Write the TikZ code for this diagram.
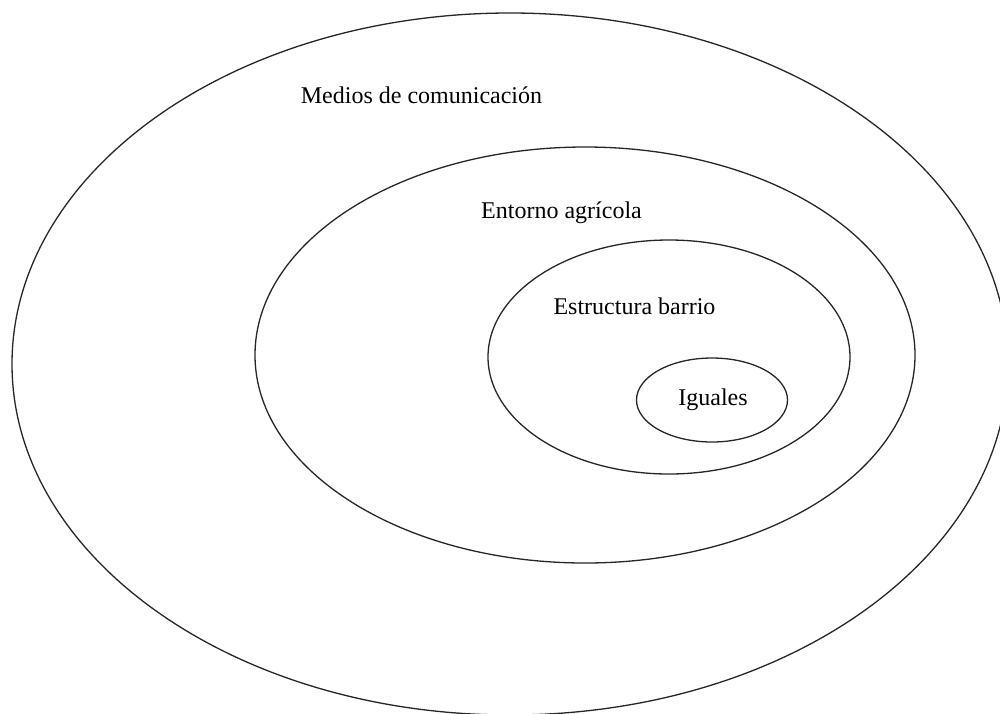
\documentclass[tikz,border=0pt]{standalone}
\usepackage{fontspec}
\setmainfont{Liberation Serif}
\usetikzlibrary{shapes.geometric}
\begin{document}
\begin{tikzpicture}[x=1pt,y=-1pt,
  ring/.style={draw=black!85,line width=1.3pt,ellipse,inner sep=0pt},
  lbl/.style={font=\fontsize{24}{28}\selectfont,inner sep=0pt,anchor=center}]
\useasboundingbox (0,0) rectangle (1000,713);
\clip (0,0) rectangle (1000,713);
\node[ring,minimum width=996pt,minimum height=702pt] (medios) at (510,364) {};
\node[ring,minimum width=660pt,minimum height=416pt] (entorno) at (585,355) {};
\node[ring,minimum width=362pt,minimum height=234pt] (barrio) at (669,357) {};
\node[ring,minimum width=151pt,minimum height=84pt] (iguales) at (712,400) {};
\node[lbl] (tmedios) at (421.5,95) {Medios de comunicación};
\node[lbl] (tentorno) at (561.5,213) {Entorno agrícola};
\node[lbl] (tbarrio) at (634.5,306) {Estructura barrio};
\node[lbl] (tiguales) at (713,400) {Iguales};
\end{tikzpicture}
\end{document}
